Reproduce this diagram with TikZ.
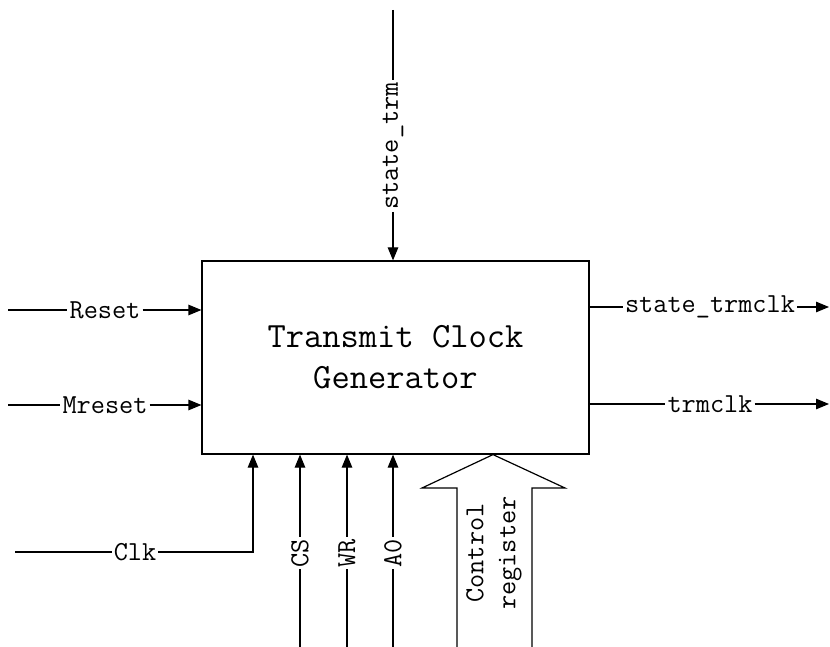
\documentclass[tikz,border=0pt]{standalone}
\usepackage{fontspec}
\usetikzlibrary{arrows.meta}
\usetikzlibrary{positioning}

\begin{document}
\begin{tikzpicture}[x=1pt, y=-1pt, line width=1.2pt,
  sig/.style={font=\ttfamily\fontsize{27.5}{32}\selectfont, inner sep=1.5pt},
  vsig/.style={sig, rotate=90},
  tip/.style={-{Triangle[length=13pt, width=10.5pt]}}]
\useasboundingbox (0,0) rectangle (830,647);

% the generator block
\node[draw, minimum width=387pt, minimum height=193pt, inner sep=0pt,
  align=center, font=\ttfamily\fontsize{35.5}{41}\selectfont]
  (gen) at (395.5,357.5) {Transmit Clock\\Generator};

% left inputs
\coordinate (rstIn) at (8,310);
\coordinate (mrstIn) at (8,405);
\node[sig] (rst) at (105,310) {Reset};
\node[sig] (mrst) at (105,405) {Mreset};
\draw (rstIn) -- (rst);
\draw[tip] (rst) -- (rst -| gen.west);
\draw (mrstIn) -- (mrst);
\draw[tip] (mrst) -- (mrst -| gen.west);

% clock input, bent up into the block
\coordinate (clkIn) at (15,552);
\coordinate (clkBend) at (253,552);
\node[sig] (clk) at (135,552) {Clk};
\draw (clkIn) -- (clk);
\draw[tip] (clk) -- (clkBend) -- (clkBend |- gen.south);

% bus control lines from below
\foreach \nm/\xx in {CS/300, WR/347, A0/393} {
  \coordinate (\nm-in) at (\xx,647);
  \node[vsig] (\nm) at (\xx,553) {\nm};
  \draw (\nm-in) -- (\nm);
  \draw[tip] (\nm) -- (\nm |- gen.south);
}

% state input from above
\coordinate (stIn) at (393,10);
\node[vsig] (st) at (393,146) {state\_trm};
\draw (stIn) -- (st);
\draw[tip] (st) -- (st |- gen.north);

% outputs
\coordinate (stOut) at (829,307);
\coordinate (clkOut) at (829,404);
\node[sig] (stclk) at (710,307) {state\_trmclk};
\node[sig] (trm) at (710,404) {trmclk};
\draw (stclk -| gen.east) -- (stclk);
\draw[tip] (stclk) -- (stOut);
\draw (trm -| gen.east) -- (trm);
\draw[tip] (trm) -- (clkOut);

% control register bus arrow
\coordinate (busTip) at (gen.south -| 493,0);
\draw (457,647) -- (457,488) -- (422,488) -- (busTip)
  -- (565,488) -- (532,488) -- (532,647);
\node[vsig, align=center, font=\ttfamily\fontsize{27.5}{32}\selectfont]
  (ctrl) at (494,553) {Control\\register};
\end{tikzpicture}
\end{document}
